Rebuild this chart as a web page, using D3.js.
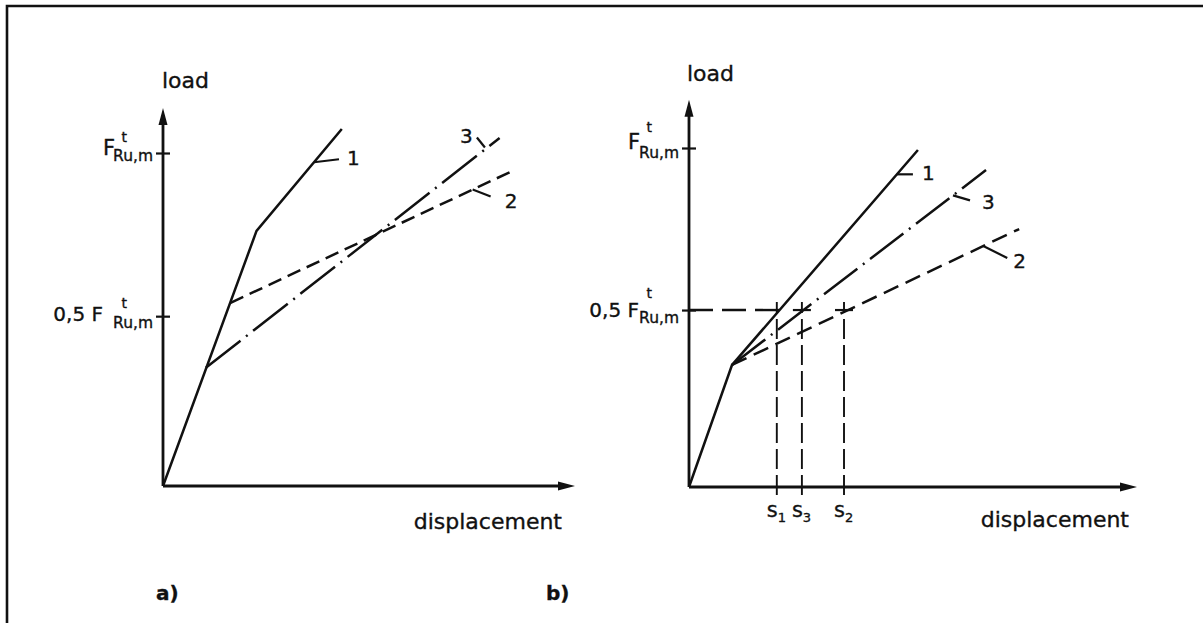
<!DOCTYPE html>
<html><head><meta charset="utf-8">
<script src="https://cdn.jsdelivr.net/npm/d3@7"></script>
<style>
body{margin:0;background:#fff}
svg{display:block}
text{font-family:"DejaVu Sans",sans-serif;fill:#111;stroke:#111;stroke-width:0.35px}
</style>
</head><body>
<svg id="c" width="1203" height="623"></svg>
<script>
// ---------- data (arbitrary units: load 100 = F_Ru,m, displacement 0..100) ----------
// panel a)
const aCurve1 = [[0,0],[22.7,76.6],[43.4,107.2]];   // solid
const aCurve2 = [[16.4,55.0],[84.8,94.6]];          // dashed
const aCurve3 = [[10.4,35.5],[81.7,104.5]];         // dash-dot
const aTickValues = [51, 100];
// panel b)
const bCurve1 = [[0,0],[9.6,36.0],[51.1,99.4]];     // solid
const bCurve2 = [[9.6,36.0],[73.7,76.1]];           // dashed
const bCurve3 = [[9.6,36.0],[66.3,93.5]];           // dash-dot
const bTickValues = [52.2, 100];
const sValues = [19.6, 25.2, 34.6];
const sNames = ["1","3","2"];
const curveNames = ["1","2","3"];
const tickLabels = [{pre:"0,5 ", main:"F", sup:"t", sub:"Ru,m"},{pre:"", main:"F", sup:"t", sub:"Ru,m"}];
const axisTitles = {y:"load", x:"displacement"};
const panelNames = ["a)","b)"];

const svg = d3.select("#c");
const INK = "#111";

// frame
svg.append("path").attr("d","M7,623V6H1203").attr("fill","none").attr("stroke",INK).attr("stroke-width",2.6);

function buildPanel(cfg){
  const x = d3.scaleLinear().domain([0,100]).range(cfg.xr);
  const y = d3.scaleLinear().domain([0,100]).range(cfg.yr);
  const g = svg.append("g");
  const line = d3.line().x(d=>x(d[0])).y(d=>y(d[1]));

  // axes lines
  g.append("line").attr("x1",x(0)).attr("y1",y(0)).attr("x2",x(0)).attr("y2",y(cfg.yTop)+8)
    .attr("stroke",INK).attr("stroke-width",2.8);
  g.append("line").attr("x1",x(0)).attr("y1",y(0)).attr("x2",x(cfg.xTop)-8).attr("y2",y(0))
    .attr("stroke",INK).attr("stroke-width",2.8);
  // arrowheads
  const ty = y(cfg.yTop), tx = x(cfg.xTop);
  g.append("path").attr("d",`M${x(0)},${ty}L${x(0)-4.5},${ty+17}L${x(0)+4.5},${ty+17}Z`).attr("fill",INK);
  g.append("path").attr("d",`M${tx},${y(0)}L${tx-17},${y(0)-4.5}L${tx-17},${y(0)+4.5}Z`).attr("fill",INK);

  // y ticks via d3 axis
  const ax = g.append("g").attr("transform",`translate(${x(0)},0)`)
    .call(d3.axisLeft(y).tickValues(cfg.ticks).tickFormat("").tickSizeOuter(0));
  ax.select(".domain").remove();
  ax.selectAll(".tick text").remove();
  ax.selectAll(".tick line").attr("x1",-7).attr("x2",7).attr("stroke",INK).attr("stroke-width",2.2);

  // tick labels: a single text element, three absolutely placed chunks
  cfg.ticks.forEach((v,i)=>{
    const L = tickLabels[i], o = cfg.lab[i], ty0 = y(v), ax0 = x(0);
    const t = g.append("text").attr("text-anchor","end");
    t.append("tspan").attr("x",ax0+o.F[0]).attr("y",ty0+o.F[1])
      .attr("font-size",L.pre?20:21).text(L.pre + L.main);
    t.append("tspan").attr("x",ax0+o.t[0]).attr("y",ty0+o.t[1]).attr("font-size",14).text(L.sup);
    t.append("tspan").attr("x",ax0+o.sub[0]).attr("y",ty0+o.sub[1]).attr("font-size",15.5).text(L.sub);
  });

  // axis titles
  g.append("text").attr("x",cfg.loadPos[0]).attr("y",cfg.loadPos[1]).attr("font-size",22).text(axisTitles.y);
  g.append("text").attr("x",cfg.dispPos[0]).attr("y",cfg.dispPos[1]).attr("font-size",22)
    .attr("text-anchor","end").text(axisTitles.x);

  // curves
  const dash = [null, cfg.dash2, cfg.dash3];
  cfg.curves.forEach((c,i)=>{
    g.append("path").attr("d",line(c)).attr("fill","none").attr("stroke",INK)
      .attr("stroke-width",2.5).attr("stroke-dasharray",dash[i]);
  });

  // curve labels with leaders
  cfg.curveLab.forEach((L,i)=>{
    const c = cfg.curves[i];
    const p0 = c[c.length-2], p1 = c[c.length-1];
    const px = x(p0[0]) + L.t*(x(p1[0])-x(p0[0]));
    const py = y(p0[1]) + L.t*(y(p1[1])-y(p0[1]));
    g.append("line").attr("x1",px+L.a[0]).attr("y1",py+L.a[1]).attr("x2",px+L.b[0]).attr("y2",py+L.b[1])
      .attr("stroke",INK).attr("stroke-width",2.2);
    g.append("text").attr("x",px+L.txt[0]).attr("y",py+L.txt[1]).attr("font-size",20).text(curveNames[i]);
  });

  // panel name
  g.append("text").attr("x",cfg.namePos[0]).attr("y",cfg.namePos[1]).attr("font-size",20)
    .attr("font-weight","bold").text(cfg.name);
  return {x,y,g};
}

buildPanel({
  name: panelNames[0], namePos:[156,600],
  xr:[163,575], yr:[486,153], xTop:100, yTop:113.5,
  ticks:aTickValues,
  lab:[{F:[-60,5],t:[-36,-8],sub:[-10,12]},
       {F:[-48,2],t:[-36,-11],sub:[-10,8]}],
  loadPos:[162,88], dispPos:[562,529],
  curves:[aCurve1,aCurve2,aCurve3],
  dash2:"14,7", dash3:"44,7,2,7",
  curveLab:[{t:0.674,a:[0,0],b:[25,-3],txt:[33,3]},
            {t:0.859,a:[0,0],b:[18,7],txt:[32,18]},
            {t:0.95,a:[-8,-12],b:[0,-2],txt:[-25,-7]}]
});

const B = buildPanel({
  name: panelNames[1], namePos:[546,600],
  xr:[689,1137], yr:[487,148], xTop:100, yTop:114.2,
  ticks:bTickValues,
  lab:[{F:[-50,7],t:[-37,-12],sub:[-10,13]},
       {F:[-49,1],t:[-37,-16],sub:[-10,10]}],
  loadPos:[687,81], dispPos:[1129,527],
  curves:[bCurve1,bCurve2,bCurve3],
  dash2:"16,8", dash3:"42,7,2,7",
  curveLab:[{t:0.887,a:[0,0],b:[16,0],txt:[25,6]},
            {t:0.875,a:[0,0],b:[24,12],txt:[30,22]},
            {t:0.870,a:[0,0],b:[17,5],txt:[29,14]}]
});

// panel b) construction lines
(function(){
  const {x,y,g} = B;
  const half = bTickValues[0];
  g.append("line").attr("x1",x(0)).attr("y1",y(half)).attr("x2",x(sValues[0])+9).attr("y2",y(half))
    .attr("stroke",INK).attr("stroke-width",2.4).attr("stroke-dasharray","24,9");
  sValues.forEach((s,i)=>{
    g.append("line").attr("x1",x(s)).attr("y1",y(0)+8).attr("x2",x(s)).attr("y2",y(half)-8)
      .attr("stroke",INK).attr("stroke-width",1.9).attr("stroke-dasharray","20,6");
    if(i>0) g.append("line").attr("x1",x(s)-9).attr("y1",y(half)).attr("x2",x(s)+9).attr("y2",y(half))
      .attr("stroke",INK).attr("stroke-width",2.2);
    const t = g.append("text").attr("x",x(s)-10).attr("y",y(0)+30).attr("font-size",21);
    t.append("tspan").text("s");
    t.append("tspan").attr("font-size",13).attr("dy",5).text(sNames[i]);
  });
})();
</script>
</body></html>
